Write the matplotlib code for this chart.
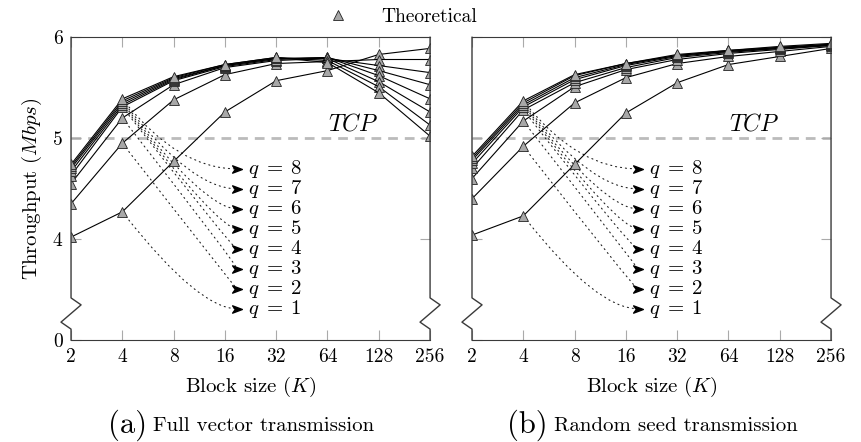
"""
Throughput vs block size for full vector / random seed transmission
"""

import matplotlib.pyplot as plt
import numpy as np
from matplotlib.lines import Line2D
from matplotlib.path import Path
from matplotlib.ticker import NullLocator

plt.rcParams['font.family'] = 'serif'
plt.rcParams['font.serif'] = ['cmr10']
plt.rcParams['mathtext.fontset'] = 'cm'
plt.rcParams['axes.formatter.use_mathtext'] = True

# Data (Mbps), rows are q = 1..8
block_sizes = [2, 4, 8, 16, 32, 64, 128, 256]
q_values = [1, 2, 3, 4, 5, 6, 7, 8]

full_vector = np.array([
    [4.02, 4.27, 4.77, 5.26, 5.57, 5.67, 5.83, 5.89],
    [4.35, 4.95, 5.38, 5.63, 5.74, 5.76, 5.78, 5.78],
    [4.55, 5.20, 5.53, 5.70, 5.77, 5.79, 5.72, 5.65],
    [4.63, 5.31, 5.57, 5.71, 5.78, 5.80, 5.67, 5.53],
    [4.67, 5.33, 5.58, 5.72, 5.79, 5.80, 5.62, 5.39],
    [4.70, 5.35, 5.59, 5.72, 5.79, 5.79, 5.56, 5.26],
    [4.72, 5.37, 5.60, 5.73, 5.80, 5.77, 5.51, 5.13],
    [4.74, 5.39, 5.61, 5.73, 5.80, 5.75, 5.45, 5.02],
])

random_seed = np.array([
    [4.04, 4.23, 4.74, 5.25, 5.55, 5.73, 5.81, 5.89],
    [4.40, 4.92, 5.35, 5.60, 5.74, 5.81, 5.86, 5.91],
    [4.60, 5.17, 5.51, 5.68, 5.78, 5.84, 5.88, 5.92],
    [4.70, 5.28, 5.55, 5.70, 5.80, 5.85, 5.89, 5.92],
    [4.75, 5.31, 5.58, 5.72, 5.81, 5.86, 5.89, 5.93],
    [4.78, 5.33, 5.60, 5.73, 5.82, 5.86, 5.90, 5.93],
    [4.80, 5.35, 5.62, 5.74, 5.82, 5.87, 5.90, 5.93],
    [4.82, 5.37, 5.63, 5.74, 5.83, 5.87, 5.91, 5.94],
])

tcp_throughput = 5.0
y_ticks = [3, 4, 5, 6]          # 3 is drawn as the broken "0"
y_tick_labels = ['0', '4', '5', '6']

# stealth-like arrow head used at the end of the dotted callouts
head = Path([(-1.0, -0.75), (1.0, 0.0), (-1.0, 0.75), (-0.45, 0.0), (-1.0, -0.75)],
            [Path.MOVETO, Path.LINETO, Path.LINETO, Path.LINETO, Path.CLOSEPOLY])

fig = plt.figure(figsize=(8.61, 4.42), dpi=100)
ax_a = fig.add_axes([0.0825, 0.2308, 0.417, 0.6848])
ax_b = fig.add_axes([0.5482, 0.2308, 0.417, 0.6848])


def draw_break(ax):
    # hide normal side spines and draw them again with a zigzag near the bottom
    ax.spines['left'].set_visible(False)
    ax.spines['right'].set_visible(False)
    for x0 in (0, 1):
        xs = [x0, x0, x0 + 0.028, x0 - 0.028, x0, x0]
        ys = [1, 0.139, 0.116, 0.059, 0.036, 0]
        ax.plot(xs, ys, transform=ax.transAxes, color='#3a3a3a', lw=1.0,
                clip_on=False, zorder=5)


def draw_panel(ax, data, show_y):
    ax.axhline(tcp_throughput, color='#bbbbbb', lw=2.0, ls=(0, (3.5, 2.5)), zorder=1)
    ax.text(2 ** 6.5, tcp_throughput + 0.03, '$TCP$', ha='center', va='bottom', fontsize=17)

    for i, q in enumerate(q_values):
        ax.plot(block_sizes, data[i], color='black', lw=0.8, marker='^', ms=7,
                mfc='#a8a8a8', mec='#222222', mew=0.6, zorder=3)

        label_y = 3.31 + 0.198 * i
        tip_x = 18.8
        ax.annotate('', xy=(tip_x, label_y), xytext=(block_sizes[1], data[i][1]),
                    arrowprops=dict(arrowstyle='-', color='#222222', lw=0.8,
                                    ls=(0, (1, 3.5)), shrinkA=4, shrinkB=0,
                                    connectionstyle='angle3,angleA=-52,angleB=0'),
                    zorder=2)
        ax.plot([tip_x], [label_y], marker=head, ms=7, color='black', ls='none', zorder=4)
        ax.text(21.8, label_y, rf'$q\;=\;{q}$', ha='left', va='center', fontsize=15)

    ax.set_xscale('log', base=2)
    ax.set_xlim(2, 256)
    ax.set_ylim(3, 6)
    ax.set_xticks(block_sizes)
    ax.set_xticklabels([str(k) for k in block_sizes])
    ax.xaxis.set_minor_locator(NullLocator())
    ax.set_yticks(y_ticks)
    if show_y:
        ax.set_yticklabels(y_tick_labels)
        ax.set_ylabel('Throughput ($Mbps$)', fontsize=15, labelpad=6)
    else:
        ax.set_yticklabels([])
    ax.tick_params(direction='in', length=7, width=0.8, color='#aaaaaa',
                   top=True, right=True, labelsize=14, pad=6)
    ax.set_xlabel('Block size ($K$)', fontsize=15, labelpad=6)
    for side in ('top', 'bottom'):
        ax.spines[side].set_color('#3a3a3a')
    draw_break(ax)


draw_panel(ax_a, full_vector, True)
draw_panel(ax_b, random_seed, False)

# captions
fig.text(0.171, 0.038, '(a)', fontsize=22, ha='right', va='center')
fig.text(0.178, 0.036, 'Full vector transmission', fontsize=15, ha='left', va='center')
fig.text(0.636, 0.038, '(b)', fontsize=22, ha='right', va='center')
fig.text(0.643, 0.036, 'Random seed transmission', fontsize=15, ha='left', va='center')

# legend
handle = Line2D([], [], marker='^', ls='none', ms=7, mfc='#a8a8a8', mec='#222222', mew=0.6)
fig.legend([handle], ['Theoretical'], loc='center', bbox_to_anchor=(0.462, 0.9615),
           frameon=False, fontsize=14, handlelength=2.0, handletextpad=1.2)

plt.savefig('out.png', dpi=100)
